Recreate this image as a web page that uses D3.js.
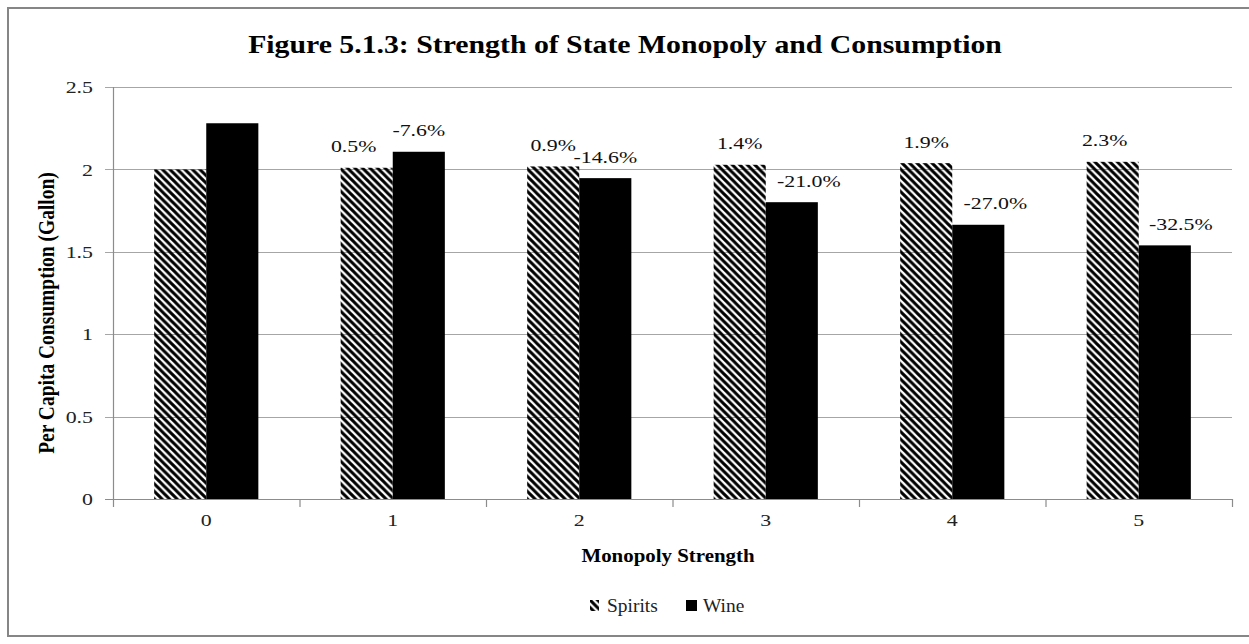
<!DOCTYPE html>
<html>
<head>
<meta charset="utf-8">
<script src="https://cdn.jsdelivr.net/npm/d3@7"></script>
<style>
	body { margin: 0; background: #fff; }
	svg text { font-family: "Liberation Serif", "Times New Roman", serif; }
</style>
</head>
<body>
<svg id="fig"></svg>
<script>

// ============================================================================== //
// DATA ========================================================================= //
// ============================================================================== //

var strengths = ["0", "1", "2", "3", "4", "5"],
	seriesNames = ["Spirits", "Wine"];

var spiritsVals = [2.00, 2.01, 2.018, 2.028, 2.038, 2.046],
	wineVals = [2.28, 2.107, 1.947, 1.801, 1.664, 1.539];

var spiritsLabels = ["", "0.5%", "0.9%", "1.4%", "1.9%", "2.3%"],
	wineLabels = ["", "-7.6%", "-14.6%", "-21.0%", "-27.0%", "-32.5%"];

var yTicks = [0, 0.5, 1, 1.5, 2, 2.5];

// ============================================================================== //
// SETUP ======================================================================== //
// ============================================================================== //

var width = 1249,
	height = 644,
	m = [87, 17, 145, 113]; // top right bottom left of the plot area

var svg = d3.select("#fig")
	.attr("width", width)
	.attr("height", height);

// the source picture is squeezed sideways, so text gets a horizontal stretch
function place(sel, x, y, sx, rot) {
	sel.attr("transform", `translate(${x},${y}) scale(${sx},1)` + (rot ? ` rotate(${rot})` : ""));
	return sel;
}

var defs = svg.append("defs");
defs.append("pattern")
	.attr("id", "hatch")
	.attr("patternUnits", "userSpaceOnUse")
	.attr("width", 7.5)
	.attr("height", 7.5)
	.append("path")
	.attr("d", "M-2,-2 L9.5,9.5 M-2,5.5 L2,9.5 M5.5,-2 L9.5,2")
	.attr("stroke", "#000")
	.attr("stroke-width", 3.1);

var rows = strengths.map((s, i) => ({
	key: s,
	values: [
		{name: "Spirits", v: spiritsVals[i], label: spiritsLabels[i]},
		{name: "Wine", v: wineVals[i], label: wineLabels[i]}
	]
}));

// ============================================================================== //
// DRAW ========================================================================= //
// ============================================================================== //

var xScale = d3.scaleBand()
	.domain(strengths)
	.range([m[3], width - m[1]])
	.paddingInner(0)
	.paddingOuter(0);

var xInner = d3.scaleBand()
	.domain(seriesNames)
	.range([0, xScale.bandwidth()])
	.paddingInner(0)
	.paddingOuter(0.79);

var yScale = d3.scaleLinear()
	.domain([0, 2.5])
	.range([height - m[2], m[0]]);

// outer frame
svg.append("rect")
	.attr("x", 8)
	.attr("y", 8)
	.attr("width", width + 10)
	.attr("height", 628)
	.attr("fill", "none")
	.attr("stroke", "#868686")
	.attr("stroke-width", 2);

// gridlines + y ticks
svg.append("g")
	.selectAll("line")
	.data(yTicks.filter(d => d > 0))
	.enter()
	.append("line")
	.attr("x1", m[3] - 8)
	.attr("x2", width - m[1])
	.attr("y1", d => Math.round(yScale(d)) + 0.5)
	.attr("y2", d => Math.round(yScale(d)) + 0.5)
	.attr("stroke", "#a6a6a6")
	.attr("stroke-width", 1.2);

var tickLabels = svg.append("g")
	.selectAll("text")
	.data(yTicks)
	.enter()
	.append("text")
	.text(d => d)
	.attr("text-anchor", "end")
	.attr("dy", "0.35em")
	.attr("font-size", 17.5)
	.attr("fill", "#222");
tickLabels.each(function(d) { place(d3.select(this), 93, yScale(d), 1.25); });

// bars
var groups = svg.append("g")
	.selectAll("g")
	.data(rows)
	.enter()
	.append("g")
	.attr("transform", d => `translate(${xScale(d.key)},0)`);

groups.selectAll("rect")
	.data(d => d.values)
	.enter()
	.append("rect")
	.attr("x", d => xInner(d.name))
	.attr("y", d => yScale(d.v))
	.attr("width", xInner.bandwidth())
	.attr("height", d => yScale(0) - yScale(d.v))
	.attr("fill", d => d.name == "Spirits" ? "url(#hatch)" : "#000");

// data labels (a few were nudged sideways in the original)
var nudge = {Spirits: [0, -13, 0, 0, 0, -8], Wine: [0, 0, 0, 17, 17, 16]};

groups.each(function(row, i) {
	d3.select(this).selectAll("text")
		.data(row.values.filter(d => d.label))
		.enter()
		.append("text")
		.text(d => d.label)
		.attr("text-anchor", "middle")
		.attr("font-size", 17.5)
		.attr("fill", "#111")
		.each(function(d) {
			place(d3.select(this), xInner(d.name) + xInner.bandwidth() / 2 + nudge[d.name][i], yScale(d.v) - 15.5, 1.25);
		});
});

// axes lines
svg.append("line")
	.attr("x1", m[3] - 8)
	.attr("x2", width - m[1])
	.attr("y1", yScale(0) + 0.5)
	.attr("y2", yScale(0) + 0.5)
	.attr("stroke", "#8c8c8c")
	.attr("stroke-width", 1.2);

svg.append("line")
	.attr("x1", m[3] + 0.5)
	.attr("x2", m[3] + 0.5)
	.attr("y1", yScale(2.5))
	.attr("y2", yScale(0) + 8)
	.attr("stroke", "#8c8c8c")
	.attr("stroke-width", 1.2);

svg.append("g")
	.selectAll("line")
	.data(strengths.slice(1).concat(["end"]))
	.enter()
	.append("line")
	.attr("x1", d => (d == "end" ? width - m[1] : xScale(d)) + 0.5)
	.attr("x2", d => (d == "end" ? width - m[1] : xScale(d)) + 0.5)
	.attr("y1", yScale(0))
	.attr("y2", yScale(0) + 8)
	.attr("stroke", "#8c8c8c")
	.attr("stroke-width", 1.2);

svg.append("g")
	.selectAll("text")
	.data(strengths)
	.enter()
	.append("text")
	.text(d => d)
	.attr("text-anchor", "middle")
	.attr("font-size", 17.5)
	.attr("fill", "#222")
	.each(function(d) { place(d3.select(this), xScale(d) + xScale.bandwidth() / 2, yScale(0) + 27, 1.25); });

// titles
place(svg.append("text")
	.text("Figure 5.1.3: Strength of State Monopoly and Consumption")
	.attr("text-anchor", "middle")
	.attr("font-size", 26)
	.attr("font-weight", "bold"), 625, 53, 1.145);

place(svg.append("text")
	.text("Per Capita Consumption (Gallon)")
	.attr("text-anchor", "middle")
	.attr("font-size", 19.5)
	.attr("font-weight", "bold"), 54, 313, 1.15, -90);

place(svg.append("text")
	.text("Monopoly Strength")
	.attr("text-anchor", "middle")
	.attr("font-size", 19)
	.attr("font-weight", "bold"), 668, 562, 1.1);

// legend
var legend = svg.append("g")
	.attr("transform", "translate(590,600)");

legend.selectAll("rect")
	.data(seriesNames)
	.enter()
	.append("rect")
	.attr("x", (d, i) => i * 96)
	.attr("y", 0)
	.attr("width", d => d == "Spirits" ? 9 : 11)
	.attr("height", 11)
	.attr("fill", d => d == "Spirits" ? "url(#hatch)" : "#000");

legend.selectAll("text")
	.data(seriesNames)
	.enter()
	.append("text")
	.text(d => d)
	.attr("font-family", "Lato, 'Open Sans', sans-serif")
	.attr("font-size", 18)
	.attr("fill", "#222")
	.each(function(d, i) { place(d3.select(this), 17 + i * 96, 11.5, 1.08); });

</script>
</body>
</html>
